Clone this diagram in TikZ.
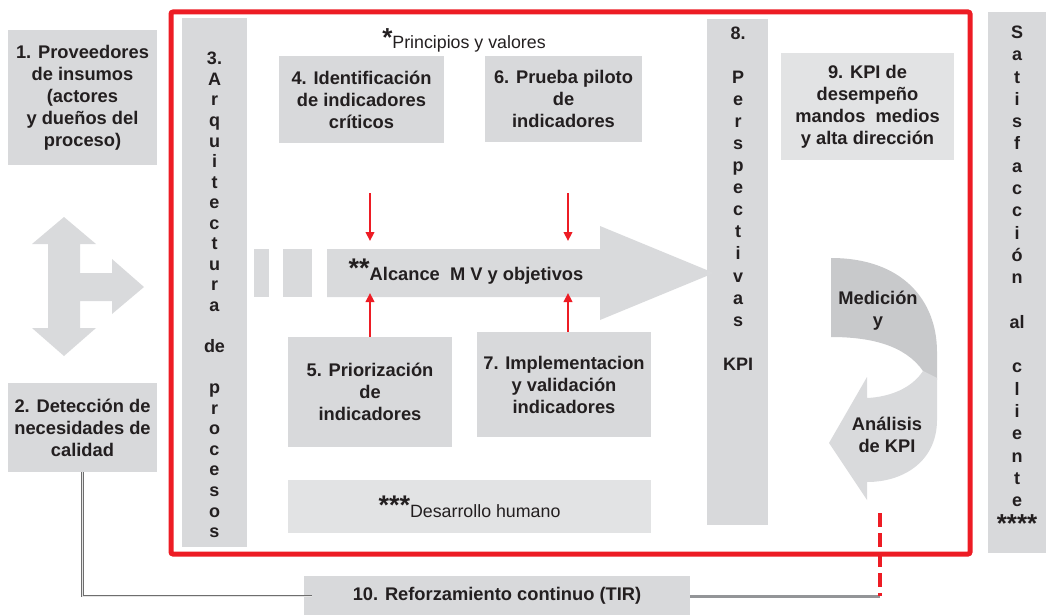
\documentclass[tikz,border=0pt]{standalone}
\usepackage{fontspec}
\setmainfont{Liberation Sans}
\usetikzlibrary{arrows.meta}
\definecolor{boxg}{RGB}{216,217,219}
\definecolor{boxl}{RGB}{226,227,228}
\definecolor{arrg}{RGB}{217,218,220}
\definecolor{curvd}{RGB}{200,201,203}
\definecolor{redf}{RGB}{237,28,36}
\definecolor{inkc}{RGB}{35,31,32}
\definecolor{lineg}{RGB}{147,149,152}
\definecolor{dblg}{RGB}{110,110,110}
\begin{document}
\begin{tikzpicture}[x=1pt,y=-1pt,
  every node/.style={text=inkc, font=\bfseries\fontsize{18.3}{22}\selectfont},
  box/.style={fill=boxg, align=center, inner sep=0pt},
  colbox/.style={fill=boxg, inner sep=0pt},
  coltext/.style={align=center, inner sep=0pt},
  plain/.style={font=\mdseries\fontsize{17.8}{22}\selectfont, inner sep=0pt},
  redarr/.style={draw=redf, line width=2.6pt, -{Triangle[width=8.5pt,length=9pt]}},
  dbl/.style={draw=dblg, double=white!80!gray, line width=0.8pt, double distance=0.9pt},
  grayline/.style={draw=lineg, line width=3pt},
  reddash/.style={draw=redf, line width=4pt, dash pattern=on 14pt off 6pt},
  frame/.style={draw=redf, line width=5pt, rounded corners=2pt}]
\useasboundingbox (0,0) rectangle (1046,615);

% left column: inputs
\node[box, minimum width=149pt, minimum height=135pt] (b1) at (82.5,97.5)
  {1. Proveedores\\de insumos\\(actores\\y dueños del\\proceso)};
\node[box, minimum width=149pt, minimum height=89pt] (b2) at (82.5,427.5)
  {2. Detección de\\necesidades de\\calidad};
% three-way arrow
\fill[arrg] (64,217) -- (96,244) -- (80,244) -- (80,273) -- (112,273) -- (112,259)
  -- (144,287) -- (112,314) -- (112,301) -- (80,301) -- (80,328) -- (96,328)
  -- (64,356) -- (32,328) -- (48,328) -- (48,244) -- (32,244) -- cycle;

% process frame
\draw[frame] (171,12) rectangle (970,554);

% column 3
\node[colbox, minimum width=65pt, minimum height=529pt] (c3) at (214.5,282.5) {};
\node[coltext, font=\bfseries\fontsize{18}{20.56}\selectfont] (c3t) at (214.5,295)
  {3.\\A\\r\\q\\u\\i\\t\\e\\c\\t\\u\\r\\a\\\mbox{}\\de\\\mbox{}\\p\\r\\o\\c\\e\\s\\o\\s};

% column 8
\node[colbox, minimum width=61pt, minimum height=506pt] (c8) at (737.5,272) {};
\node[coltext, font=\bfseries\fontsize{18}{22.07}\selectfont] (c8t) at (738,198.5)
  {8.\\\mbox{}\\P\\e\\r\\s\\p\\e\\c\\t\\i\\v\\a\\s\\\mbox{}\\KPI};

% customer satisfaction column
\node[colbox, minimum width=58pt, minimum height=541pt] (sc) at (1017,282.5) {};
\node[coltext, font=\bfseries\fontsize{18}{22.3}\selectfont] (sct) at (1017,279)
  {S\\a\\t\\i\\s\\f\\a\\c\\c\\i\\ó\\n\\\mbox{}\\al\\\mbox{}\\c\\l\\i\\e\\n\\t\\e\\
   \raisebox{-3pt}{\fontsize{26}{26}\selectfont****}};

% principles
\node[plain] (pv) at (464,40)
  {\raisebox{2pt}{\bfseries\fontsize{26}{26}\selectfont*}Principios y valores};

% indicator boxes
\node[box, minimum width=165pt, minimum height=86pt] (b4) at (361.5,99.5)
  {4. Identificación\\de indicadores\\críticos};
\node[box, minimum width=157pt, minimum height=86pt] (b6) at (563.5,99)
  {6. Prueba piloto\\de\\indicadores};
\node[box, fill=boxl, minimum width=173pt, minimum height=107pt] (b9) at (867.5,106.5)
  {9. KPI de\\desempeño\\mandos\ \ medios\\y alta dirección};
\node[box, minimum width=164pt, minimum height=110pt] (b5) at (370,392)
  {5. Priorización\\de\\indicadores};
\node[box, minimum width=174pt, minimum height=105pt] (b7) at (564,384.5)
  {7. Implementacion\\y validación\\indicadores};
\node[box, fill=boxl, font=\mdseries\fontsize{17.8}{22}\selectfont,
  minimum width=363pt, minimum height=53pt] (dh) at (469.5,506.5)
  {\raisebox{3pt}{\bfseries\fontsize{27}{27}\selectfont***}Desarrollo humano};
\node[box, minimum width=386pt, minimum height=40pt] (b10) at (497,596)
  {10. Reforzamiento continuo (TIR)};

% main arrow
\fill[arrg] (254,249) rectangle (269,297);
\fill[arrg] (283,249) rectangle (312,297);
\fill[arrg] (327,249) -- (600,249) -- (600,226) -- (714,273) -- (600,320)
  -- (600,297) -- (327,297) -- cycle;
\node[inner sep=0pt] (alc) at (466,272)
  {\raisebox{3pt}{\fontsize{27}{27}\selectfont**}Alcance\ \ M V y objetivos};

% red arrows onto the main arrow
\coordinate (t4) at (370,193);
\coordinate (h4) at (370,241);
\coordinate (h5) at (370,293);
\coordinate (t6) at (568,193);
\coordinate (h6) at (568,241);
\coordinate (h7) at (568,293);
\draw[redarr] (t4) -- (h4);
\draw[redarr] (t6) -- (h6);
\draw[redarr] (b5.north) -- (h5);
\draw[redarr] (b7.north -| h7) -- (h7);

% measurement and analysis loop
\fill[curvd] (831,258) .. controls (902,258) and (937,300) .. (937,352)
  -- (937,380) -- (923,371) .. controls (905,345) and (870,337) .. (831,337) -- cycle;
\fill[arrg] (923,371) -- (937,378) -- (937,420)
  .. controls (937,460) and (905,482) .. (867,482)
  -- (867,500) -- (829,443) -- (867,377) -- (867,398)
  .. controls (890,397) and (912,388) .. (923,371) -- cycle;
\node[align=center, inner sep=0pt] (med) at (878,311) {Medición\\y};
\node[align=center, inner sep=0pt] (ana) at (887,434.5) {Análisis\\de KPI};

% feedback connectors
\coordinate (m) at (880,596);
\coordinate (mt) at (880,513);
\draw[dbl] (b2.south) -- (b2.south |- b10.west) -- ([xshift=8pt]b10.west);
\draw[grayline] (b10.east) -- (m);
\draw[reddash] (mt) -- (m);
\end{tikzpicture}
\end{document}
